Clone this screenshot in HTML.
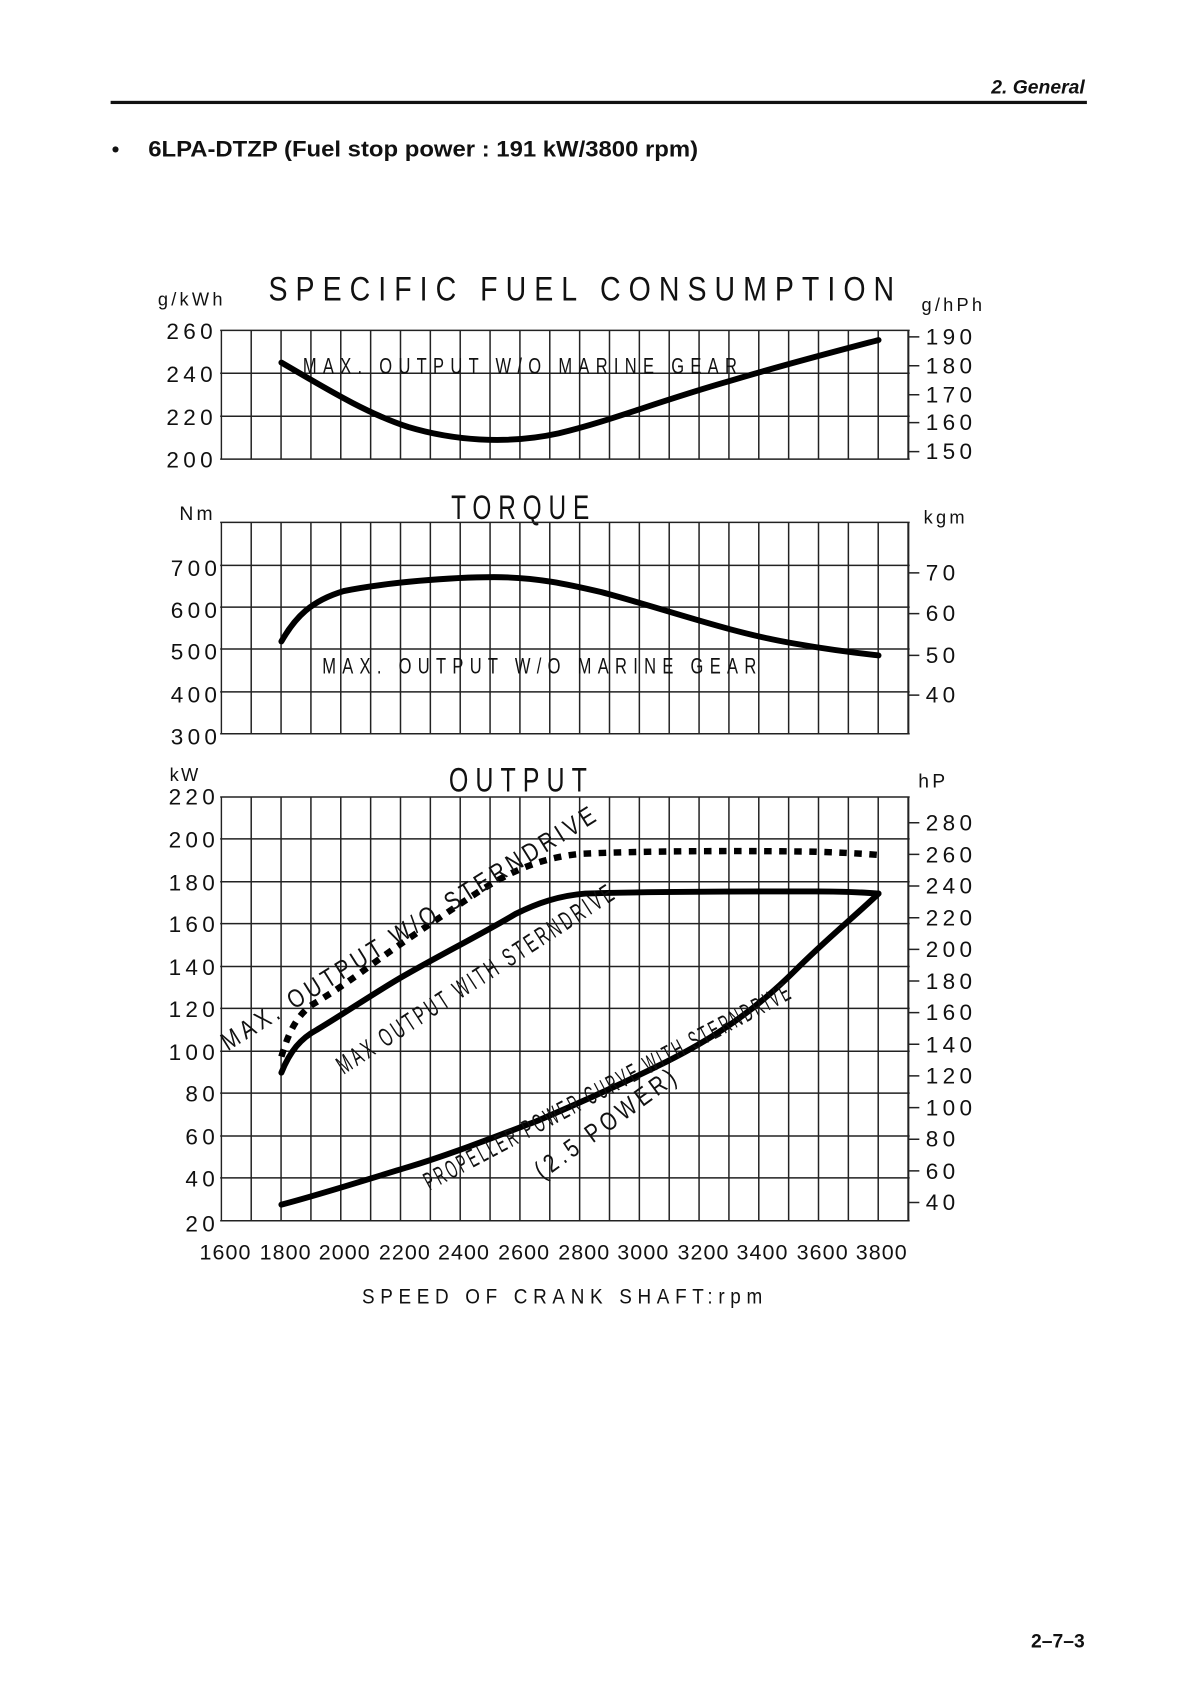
<!DOCTYPE html>
<html><head><meta charset="utf-8"><style>
html,body{margin:0;padding:0;background:#fff}
svg{display:block}
text{font-family:"Liberation Sans Narrow","Liberation Sans",sans-serif;fill:#111}
.l{font-size:21px;letter-spacing:4px}
.t{font-size:32px;letter-spacing:9px}
.c{fill:none;stroke:#000;stroke-width:5.5;stroke-linecap:round;stroke-linejoin:round}
</style></head><body>
<svg width="1190" height="1682" viewBox="0 0 1108 1568" preserveAspectRatio="none" xmlns="http://www.w3.org/2000/svg">
<defs>
<pattern id="v" x="205.4" y="0" width="27.8" height="10" patternUnits="userSpaceOnUse"><rect x="0" y="0" width="1.4" height="10" fill="#222"/></pattern>
</defs>
<text x="1010" y="87" text-anchor="end" style="font-family:'Liberation Sans',sans-serif;font-weight:bold;font-style:italic;font-size:18px">2.   General</text>
<rect x="103" y="94" width="909" height="3" fill="#111"/>
<text x="104" y="146" style="font-family:'Liberation Sans',sans-serif;font-size:20px;font-weight:bold">•</text>
<text x="138" y="146" textLength="512" lengthAdjust="spacingAndGlyphs" style="font-family:'Liberation Sans',sans-serif;font-size:21px;font-weight:bold">6LPA-DTZP (Fuel stop power : 191 kW/3800 rpm)</text>

<text class="t" x="250" y="280" textLength="590" lengthAdjust="spacingAndGlyphs">SPECIFIC FUEL CONSUMPTION</text>
<text x="147" y="285" style="font-size:17px;letter-spacing:3px">g/kWh</text>
<text x="858" y="290" style="font-size:17px;letter-spacing:3px">g/hPh</text>
<rect x="205.4" y="308" width="641" height="120" fill="url(#v)"/>
<path d="M205 308H847M205 348H847M205 388H847M205 428H847M846 308V428" stroke="#222" stroke-width="1.4" fill="none"/>
<g class="l" text-anchor="end">
<text x="202" y="316">260</text><text x="202" y="356">240</text><text x="202" y="396">220</text><text x="202" y="436">200</text>
</g>
<path d="M846 314h10M846 341h10M846 368h10M846 394h10M846 421h10" stroke="#222" stroke-width="1.4"/>
<g class="l"><text x="862" y="321">190</text><text x="862" y="348">180</text><text x="862" y="375">170</text><text x="862" y="401">160</text><text x="862" y="428">150</text></g>
<text class="l" x="282" y="348" textLength="410" lengthAdjust="spacingAndGlyphs" style="letter-spacing:8px">MAX. OUTPUT W/O MARINE GEAR</text>
<path class="c" d="M262 338 C300 360 340 385 380 398 C420 410 470 415 520 404 C570 392 610 375 680 355 C730 340 780 327 818 317"/>

<text class="t" x="420" y="484" textLength="135" lengthAdjust="spacingAndGlyphs">TORQUE</text>
<text x="167" y="485" style="font-size:18px;letter-spacing:3px">Nm</text>
<text x="860" y="488" style="font-size:17px;letter-spacing:3px">kgm</text>
<rect x="205.4" y="487" width="641" height="197" fill="url(#v)"/>
<path d="M205 487H847M205 527H847M205 566H847M205 605H847M205 645H847M205 684H847M846 487V684" stroke="#222" stroke-width="1.4" fill="none"/>
<g class="l" text-anchor="end">
<text x="206" y="537">700</text><text x="206" y="576">600</text><text x="206" y="615">500</text><text x="206" y="655">400</text><text x="206" y="694">300</text>
</g>
<path d="M846 534h10M846 572h10M846 611h10M846 648h10" stroke="#222" stroke-width="1.4"/>
<g class="l"><text x="862" y="541">70</text><text x="862" y="579">60</text><text x="862" y="618">50</text><text x="862" y="655">40</text></g>
<text class="l" x="300" y="628" textLength="410" lengthAdjust="spacingAndGlyphs" style="letter-spacing:8px">MAX. OUTPUT W/O MARINE GEAR</text>
<path class="c" d="M262 598 C275 575 290 560 320 551 C360 543 420 538 460 538 C500 538 530 545 560 552 C620 568 680 590 740 600 C780 607 800 609 818 611"/>

<text class="t" x="418" y="738" textLength="135" lengthAdjust="spacingAndGlyphs">OUTPUT</text>
<text x="158" y="728" style="font-size:17px;letter-spacing:2px">kW</text>
<text x="855" y="734" style="font-size:18px;letter-spacing:3px">hP</text>
<rect x="205.4" y="743" width="641" height="395" fill="url(#v)"/>
<path d="M205 743H847M205 782H847M205 822H847M205 861H847M205 901H847M205 940H847M205 980H847M205 1019H847M205 1059H847M205 1098H847M205 1138H847M846 743V1138" stroke="#222" stroke-width="1.4" fill="none"/>
<g class="l" text-anchor="end">
<text x="204" y="750">220</text><text x="204" y="790">200</text><text x="204" y="830">180</text><text x="204" y="869">160</text><text x="204" y="909">140</text><text x="204" y="948">120</text><text x="204" y="988">100</text><text x="204" y="1027">80</text><text x="204" y="1067">60</text><text x="204" y="1106">40</text><text x="204" y="1148">20</text>
</g>
<path d="M846 767h10M846 796.5h10M846 826h10M846 855.5h10M846 885h10M846 914.5h10M846 944h10M846 973.5h10M846 1003h10M846 1032.5h10M846 1062h10M846 1091.5h10M846 1121h10" stroke="#222" stroke-width="1.4"/>
<g class="l">
<text x="862" y="774">280</text><text x="862" y="804">260</text><text x="862" y="833">240</text><text x="862" y="863">220</text><text x="862" y="892">200</text><text x="862" y="922">180</text><text x="862" y="951">160</text><text x="862" y="981">140</text><text x="862" y="1010">120</text><text x="862" y="1040">100</text><text x="862" y="1069">80</text><text x="862" y="1099">60</text><text x="862" y="1128">40</text>
</g>
<g style="font-size:20px;letter-spacing:1px" text-anchor="middle">
<text x="210" y="1174">1600</text><text x="266" y="1174">1800</text><text x="321" y="1174">2000</text><text x="377" y="1174">2200</text><text x="432" y="1174">2400</text><text x="488" y="1174">2600</text><text x="544" y="1174">2800</text><text x="599" y="1174">3000</text><text x="655" y="1174">3200</text><text x="710" y="1174">3400</text><text x="766" y="1174">3600</text><text x="821" y="1174">3800</text>
</g>
<text x="337" y="1215" textLength="378" lengthAdjust="spacingAndGlyphs" style="font-size:20px;letter-spacing:6px">SPEED OF CRANK SHAFT:rpm</text>

<path class="c" style="stroke-dasharray:7 7;stroke-linecap:butt;stroke-width:6" d="M262 985 C268 965 275 948 290 937 C305 928 318 920 345 900 C375 878 410 855 440 835 C470 815 500 800 540 796 C600 793 700 793 760 794 C790 795 805 796 818 797"/>
<path class="c" d="M262 1000 C270 980 280 968 295 960 C320 945 345 928 372 912 C410 890 450 870 480 852 C500 842 520 835 545 833 C600 831 700 831 760 831 C790 831 805 832 818 833"/>
<path class="c" d="M262 1123 C300 1113 340 1100 380 1088 C420 1076 460 1060 500 1045 C540 1028 580 1010 620 990 C660 970 700 945 740 905 C770 875 795 855 818 833"/>

<g style="font-size:24px;letter-spacing:5px">
<text transform="translate(212,980) rotate(-32)" textLength="410" lengthAdjust="spacingAndGlyphs">MAX. OUTPUT W/O STERNDRIVE</text>
<text transform="translate(320,1002) rotate(-33)" textLength="305" lengthAdjust="spacingAndGlyphs">MAX OUTPUT WITH STERNDRIVE</text>
<text transform="translate(400,1110) rotate(-28)" textLength="385" lengthAdjust="spacingAndGlyphs">PROPELLER POWER CURVE WITH STERNDRIVE</text>
<text transform="translate(505,1100) rotate(-36)" textLength="160" lengthAdjust="spacingAndGlyphs">(2.5 POWER)</text>
</g>

<text x="1010" y="1536" text-anchor="end" style="font-family:'Liberation Sans',sans-serif;font-weight:bold;font-size:18px">2–7–3</text>
</svg>
</body></html>
